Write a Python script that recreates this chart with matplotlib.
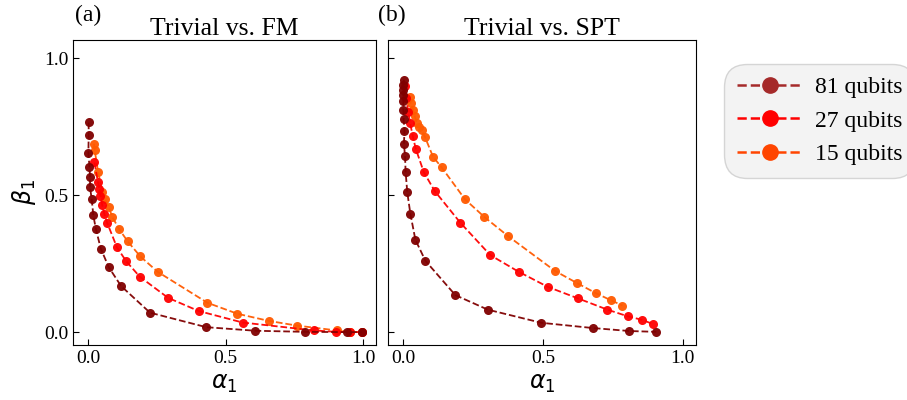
import numpy as np
from matplotlib import pyplot as plt
from matplotlib.lines import Line2D

plt.rcParams['font.family'] = ['Liberation Serif', 'DejaVu Serif']
plt.rcParams['mathtext.fontset'] = 'dejavusans'

# panel (a): Trivial vs. FM
a81_x = [0.002, 0.002, 0.001, 0.005, 0.007, 0.007, 0.013, 0.019, 0.028, 0.046, 0.075, 0.120, 0.225, 0.430, 0.608, 0.790, 0.940, 0.996]
a81_y = [0.765, 0.720, 0.653, 0.602, 0.566, 0.528, 0.485, 0.426, 0.377, 0.305, 0.237, 0.168, 0.071, 0.018, 0.005, 0.001, 0.0, 0.0]
a27_x = [0.023, 0.036, 0.041, 0.045, 0.051, 0.059, 0.070, 0.105, 0.139, 0.188, 0.291, 0.402, 0.562, 0.823, 0.903, 0.954, 0.996]
a27_y = [0.619, 0.546, 0.522, 0.495, 0.465, 0.431, 0.397, 0.309, 0.258, 0.202, 0.125, 0.077, 0.035, 0.006, 0.001, 0.0, 0.0]
a15_x = [0.021, 0.024, 0.036, 0.052, 0.061, 0.075, 0.088, 0.112, 0.144, 0.190, 0.253, 0.434, 0.543, 0.657, 0.758, 0.905, 0.954, 0.996]
a15_y = [0.687, 0.663, 0.586, 0.510, 0.485, 0.456, 0.420, 0.377, 0.331, 0.276, 0.220, 0.107, 0.067, 0.041, 0.024, 0.006, 0.001, 0.0]

# panel (b): Trivial vs. SPT
b81_x = [0.002, 0.0, 0.0, 0.0, 0.0, 0.0, 0.001, 0.004, 0.002, 0.006, 0.008, 0.014, 0.025, 0.043, 0.079, 0.186, 0.302, 0.494, 0.677, 0.809, 0.905]
b81_y = [0.921, 0.903, 0.884, 0.866, 0.842, 0.809, 0.777, 0.735, 0.687, 0.641, 0.585, 0.510, 0.432, 0.337, 0.260, 0.135, 0.082, 0.034, 0.015, 0.004, 0.001]
b27_x = [0.005, 0.010, 0.017, 0.024, 0.034, 0.044, 0.073, 0.112, 0.204, 0.311, 0.413, 0.517, 0.625, 0.730, 0.802, 0.853, 0.892]
b27_y = [0.897, 0.854, 0.805, 0.763, 0.714, 0.670, 0.584, 0.515, 0.399, 0.281, 0.220, 0.165, 0.123, 0.082, 0.058, 0.045, 0.030]
b15_x = [0.022, 0.026, 0.034, 0.041, 0.048, 0.056, 0.065, 0.077, 0.106, 0.137, 0.221, 0.290, 0.375, 0.543, 0.623, 0.689, 0.743, 0.784]
b15_y = [0.858, 0.836, 0.811, 0.787, 0.763, 0.748, 0.736, 0.713, 0.640, 0.601, 0.484, 0.420, 0.350, 0.223, 0.178, 0.142, 0.116, 0.097]

labels = ['81 qubits', '27 qubits', '15 qubits']
data_colors = ['#800000', '#ff0000', '#ff5a00']
legend_colors = ['#a52a2a', '#ff0000', '#ff4500']

fig = plt.figure(figsize=(9.07, 4.0), dpi=100)
ax1 = fig.add_axes([73/907, 55/400, 303/907, 305/400])
ax2 = fig.add_axes([388/907, 55/400, 308/907, 305/400])

panels = [
    (ax1, [(a81_x, a81_y), (a27_x, a27_y), (a15_x, a15_y)], 'Trivial vs. FM'),
    (ax2, [(b81_x, b81_y), (b27_x, b27_y), (b15_x, b15_y)], 'Trivial vs. SPT'),
]

for ax, series, title in panels:
    for (xs, ys), c in zip(series[::-1], data_colors[::-1]):
        ax.plot(xs, ys, '--o', color=c, markersize=6.5, linewidth=1.3,
                markeredgecolor='none', alpha=0.95)
    ax.set_xlim(-0.055, 1.047)
    ax.set_ylim(-0.047, 1.066)
    ax.set_xticks([0.0, 0.5, 1.0])
    ax.set_yticks([0.0, 0.5, 1.0])
    ax.tick_params(direction='in', labelsize=14, length=4)
    ax.set_xlabel(r'$\alpha_1$', fontsize=17)
    ax.set_title(title, fontsize=18.5, pad=2)

ax1.set_ylabel(r'$\beta_1$', fontsize=17)
ax2.set_yticklabels([])

fig.text(75/907, 1 - 15/400, '(a)', fontsize=17, va='center', ha='left')
fig.text(378/907, 1 - 15/400, '(b)', fontsize=17, va='center', ha='left')

handles = [Line2D([], [], linestyle='--', marker='o', color=c, markersize=11, linewidth=1.8)
           for c in legend_colors]
leg = fig.legend(handles, labels, loc='upper left', bbox_to_anchor=(712/907, 1 - 52/400),
                 fontsize=17, frameon=True, fancybox=True, facecolor='#f0f0f0',
                 edgecolor='#cccccc', handlelength=2.8, labelspacing=0.5, borderpad=0.55,
                 handletextpad=0.5)
leg.get_frame().set_boxstyle('round', pad=0, rounding_size=1.0)

fig.savefig('out.png', dpi=100)
